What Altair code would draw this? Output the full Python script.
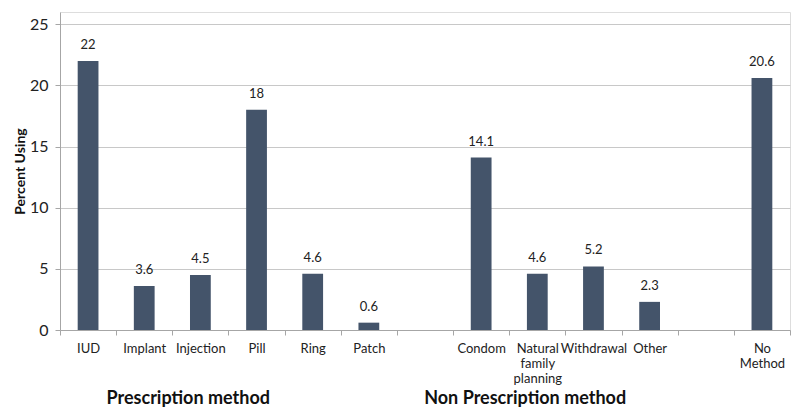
import altair as alt
import pandas as pd

categories = ["IUD", "Implant", "Injection", "Pill", "Ring", "Patch", " ",
              "Condom", "Natural|family|planning", "Withdrawal", "Other", "  ",
              "No|Method"]
methods = ["IUD", "Implant", "Injection", "Pill", "Ring", "Patch",
           "Condom", "Natural|family|planning", "Withdrawal", "Other", "No|Method"]
values = [22, 3.6, 4.5, 18, 4.6, 0.6, 14.1, 4.6, 5.2, 2.3, 20.6]
labels = ["22", "3.6", "4.5", "18", "4.6", "0.6", "14.1", "4.6", "5.2", "2.3", "20.6"]

group_anchor = ["Implant", "Condom"]
group_names = ["Prescription method", "Non Prescription method"]

df = pd.DataFrame({"method": methods, "value": values, "label": labels})
gdf = pd.DataFrame({"method": group_anchor, "group": group_names})

FONT = "Lato"
BAR = "#44546A"

x_enc = alt.X(
    "method:N",
    sort=categories,
    scale=alt.Scale(domain=categories, paddingInner=0, paddingOuter=0),
    axis=alt.Axis(
        title=None,
        labelAngle=0,
        labelExpr="isValid(datum.value) ? split(datum.value, '|') : ''",
        labelFont=FONT,
        labelFontSize=13,
        labelColor="#222222",
        labelPadding=7,
        labelLineHeight=15,
        tickBand="extent",
        tickSize=5,
        tickColor="#A6A6A6",
        domainColor="#A6A6A6",
        grid=False,
        labelBaseline="top",
    ),
)

y_enc = alt.Y(
    "value:Q",
    scale=alt.Scale(domain=[0, 25]),
    axis=alt.Axis(
        title="Percent Using",
        values=[0, 5, 10, 15, 20, 25],
        titleFont=FONT,
        titleFontSize=14,
        titleFontWeight="bold",
        titleColor="#111111",
        titlePadding=2,
        labelFont=FONT,
        labelFontSize=16,
        labelColor="#222222",
        labelPadding=7,
        tickSize=5,
        tickColor="#A6A6A6",
        domainColor="#A6A6A6",
        gridColor="#C8C8C8",
        gridWidth=1,
    ),
)

bars = alt.Chart(df).mark_bar(color=BAR, width=alt.RelativeBandSize(0.37)).encode(
    x=x_enc, y=y_enc
)

texts = alt.Chart(df).mark_text(
    font=FONT, fontSize=13, color="#222222", baseline="bottom", dy=-9
).encode(
    x=alt.X("method:N", sort=categories, scale=alt.Scale(domain=categories)),
    y="value:Q",
    text="label:N",
)

groups = alt.Chart(gdf).mark_text(
    font=FONT, fontSize=18, fontWeight="bold", color="#111111", baseline="middle",
    dx=44
).encode(
    x=alt.X("method:N", sort=categories, scale=alt.Scale(domain=categories)),
    y=alt.value(387),
    text="group:N",
)

chart = (
    alt.layer(bars, texts, groups)
    .properties(
        width=730,
        height=318,
        autosize=alt.AutoSizeParams(type="none"),
        padding={"left": 52, "top": 4, "right": 2, "bottom": 78},
    )
    .configure_view(stroke=None)
    .configure(background="white")
)

chart.save("out.html", embed_options={"renderer": "svg", "actions": False})
